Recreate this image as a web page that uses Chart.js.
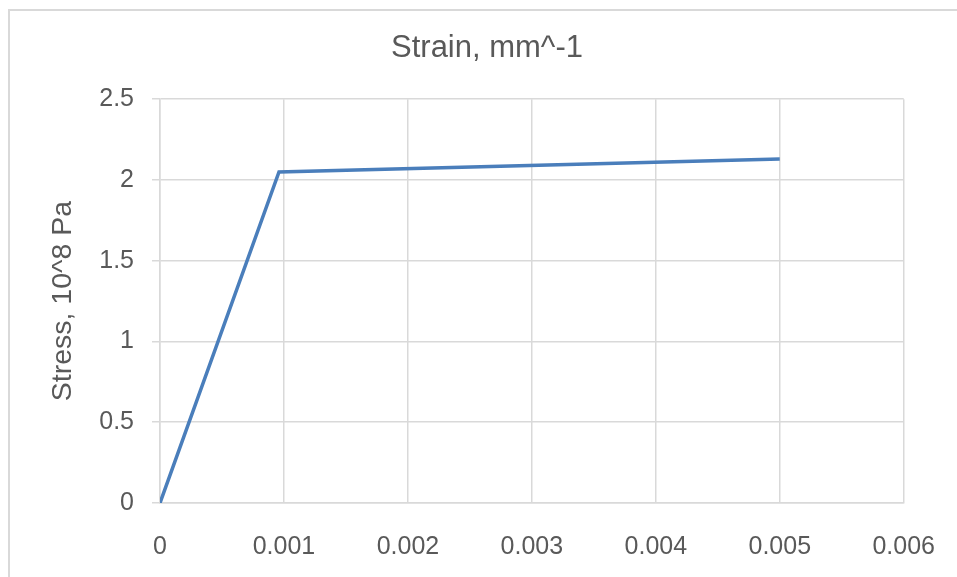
<!DOCTYPE html>
<html>
<head>
<meta charset="utf-8">
<script src="https://cdn.jsdelivr.net/npm/chart.js@4.4.1/dist/chart.umd.min.js"></script>
<style>
    html, body { margin: 0; padding: 0; background: #fff; overflow: hidden; width: 957px; height: 577px; }
    #caixa { position: absolute; left: 8px; top: 9px; width: 954px; height: 580px; border-left: 2px solid #d9d9d9; border-top: 2px solid #d9d9d9; }
    canvas { display: block; width: 954px !important; height: 580px !important; }
</style>
</head>
<body>
<div id="caixa">
    <canvas id="graficoTensao" width="954" height="580"></canvas>
</div>
<script>
    // dados
    const deformacao = [0, 0.00096, 0.005];
    const tensao = [0, 2.05, 2.13];
    const xTickLabels = ['0', '0.001', '0.002', '0.003', '0.004', '0.005', '0.006'];
    const yTickLabels = ['0', '0.5', '1', '1.5', '2', '2.5'];

    const pontos = deformacao.map((x, i) => ({ x: x, y: tensao[i] }));
    const fonte = "'Liberation Sans', Arial, sans-serif";
    const cinza = '#595959';
    const grade = '#d9d9d9';

    const grafico = document.getElementById('graficoTensao');

    new Chart(grafico, {
        type: 'scatter',
        data: {
            datasets: [{
                label: 'Stress',
                data: pontos,
                showLine: true,
                borderColor: '#4a7ebb',
                borderWidth: 3.5,
                pointRadius: 0,
                tension: 0,
                fill: false
            }]
        },
        options: {
            responsive: false,
            animation: false,
            layout: {
                // padding igual dos dois lados pro titulo ficar centrado
                padding: { left: 56, right: 56, top: 0, bottom: 0 }
            },
            plugins: {
                legend: { display: false },
                tooltip: { enabled: false },
                title: {
                    display: true,
                    text: 'Strain, mm^-1',
                    color: cinza,
                    font: { family: fonte, size: 31, weight: 'normal' },
                    padding: { top: 19, bottom: 32 }
                }
            },
            scales: {
                x: {
                    type: 'linear',
                    min: 0,
                    max: 0.006,
                    grid: {
                        color: grade,
                        lineWidth: 1.5,
                        drawTicks: false
                    },
                    border: { color: grade, width: 1.5 },
                    ticks: {
                        stepSize: 0.001,
                        padding: 29,
                        color: cinza,
                        font: { family: fonte, size: 25 },
                        maxRotation: 0,
                        callback: (v, i) => xTickLabels[i]
                    }
                },
                y: {
                    min: 0,
                    max: 2.5,
                    grid: {
                        color: grade,
                        lineWidth: 1.5,
                        tickLength: 8
                    },
                    border: { color: grade, width: 1.5 },
                    ticks: {
                        stepSize: 0.5,
                        padding: 18,
                        color: cinza,
                        font: { family: fonte, size: 25 },
                        callback: (v, i) => yTickLabels[i]
                    },
                    title: {
                        display: true,
                        text: 'Stress, 10^8 Pa',
                        color: cinza,
                        font: { family: fonte, size: 28.5 },
                        padding: { top: -20, bottom: 0 }
                    },
                    afterFit: (escala) => { escala.width = 94; }
                }
            }
        }
    });
</script>
</body>
</html>
